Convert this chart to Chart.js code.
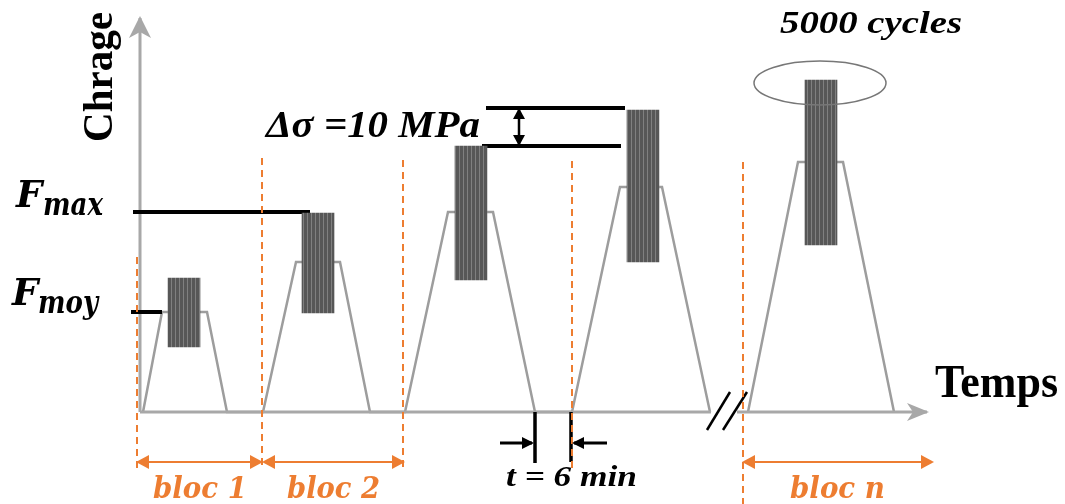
<!DOCTYPE html>
<html>
<head>
<meta charset="utf-8">
<script src="https://cdn.jsdelivr.net/npm/chart.js@4.4.1/dist/chart.umd.min.js"></script>
<style>
  html, body { margin: 0; padding: 0; background: #fff; }
  #wrap { width: 1065px; height: 504px; }
</style>
</head>
<body>
<div id="wrap"><canvas id="chart"></canvas></div>
<script>
// temps : 0 = axe vertical ; charge : 0 = axe horizontal
const profileT = [3, 22, 67, 87, 123, 156, 200, 230, 265, 308, 353, 395, 432, 480, 522, 570];
const profileF = [0, 100, 100, 0, 0, 150, 150, 0, 0, 200, 200, 0, 0, 225, 225, 0];
const blocNT = [608, 658, 703, 754];
const blocNF = [0, 250, 250, 0];

// paquets de cycles : centre, charge min, charge max
const cycT = [44, 178, 331, 503, 681];
const cycMin = [65, 99, 132, 150, 167];
const cycMax = [134, 199, 266, 302, 332];

// limites des blocs (pointillés orange)
const blocT = [-3, 122, 263, 432, 603];
const blocTop = [155, 254, 252, 251, 250];

const Fmax = 200, Fmoy = 100;
const dsHigh = 304, dsLow = 266;
const pauseT = [395, 431]; // t = 6 min

const GREY = '#9d9d9d', AXIS = '#a8a8a8', ORANGE = '#ED7D31';

const seg = (t0, f0, t1, f1) => [{ x: t0, y: f0 }, { x: t1, y: f1 }];
const line = (data, color, width, extra) => Object.assign({
  type: 'line', data, borderColor: color, borderWidth: width,
  pointRadius: 0, fill: false, tension: 0, order: 2
}, extra || {});

// motif strié des paquets de cycles
const pat = document.createElement('canvas');
pat.width = 4; pat.height = 2;
const pc = pat.getContext('2d');
pc.fillStyle = '#575757'; pc.fillRect(0, 0, 4, 2);
pc.fillStyle = '#808080'; pc.fillRect(3, 0, 1, 2);
const stripes = pc.createPattern(pat, 'repeat');

const datasets = [
  line(seg(0, 0, 0, 394), AXIS, 3, { arrow: 'end', head: [22, 11, 6], headColor: AXIS }),
  line(seg(0, 0, 571, 0), AXIS, 3),
  line(seg(597, 0, 787, 0), AXIS, 3, { arrow: 'end', head: [22, 9, 6], headColor: AXIS }),
  line(profileT.map((t, i) => ({ x: t, y: profileF[i] })), GREY, 2.5),
  line(blocNT.map((t, i) => ({ x: t, y: blocNF[i] })), GREY, 2.5),
  {
    type: 'bar', order: 0, grouped: false, barThickness: 32,
    backgroundColor: stripes, borderWidth: 0,
    data: cycT.map((t, i) => ({ x: t, y: [cycMin[i], cycMax[i]] }))
  },
  line(seg(-7, Fmax, 170, Fmax), '#000', 4, { order: 1 }),
  line(seg(-9, Fmoy, 22, Fmoy), '#000', 4, { order: 1 }),
  line(seg(346, dsHigh, 485, dsHigh), '#000', 4, { order: 1 }),
  line(seg(342, dsLow, 481, dsLow), '#000', 4, { order: 1 }),
  line(seg(379, dsLow + 2, 379, dsHigh - 2), '#000', 2.5, { order: 1, arrow: 'both', head: [11, 6, 0] }),
  line(seg(pauseT[0], 0, pauseT[0], -51), '#000', 3.5, { order: 1 }),
  line(seg(pauseT[1], 0, pauseT[1], -50), '#000', 3.5, { order: 1 }),
  line(seg(360, -31, pauseT[0] - 3, -31), '#000', 3, { order: 1, arrow: 'end', head: [12, 6, 0] }),
  line(seg(467, -31, pauseT[1] + 3, -31), '#000', 3, { order: 1, arrow: 'end', head: [12, 6, 0] }),
  line(seg(567, -18, 590, 20), '#000', 2.5, { order: 1 }),
  line(seg(583, -18, 607, 20), '#000', 2.5, { order: 1 }),
  ...blocT.map((t, i) => line(seg(t, blocTop[i], t, i === 4 ? -92 : -58), ORANGE, 2, { order: 0, borderDash: [7, 5] })),
  line(seg(blocT[0] + 1, -50, blocT[1] - 1, -50), ORANGE, 2, { order: 0, arrow: 'both', head: [13, 7, 0], headColor: ORANGE }),
  line(seg(blocT[1] + 2, -50, blocT[2], -50), ORANGE, 2, { order: 0, arrow: 'both', head: [13, 7, 0], headColor: ORANGE }),
  line(seg(blocT[4] + 1, -50, 792, -50), ORANGE, 2, { order: 0, arrow: 'both', head: [13, 7, 0], headColor: ORANGE })
];

const SERIF = '"Liberation Serif"', MATH = '"DejaVu Serif"';
const labels = [
  { text: 'Chrage', t: -28, f: 335, font: 'bold 42px ' + SERIF, w: 130, rot: -Math.PI / 2, align: 'center' },
  { text: 'F', t: -124, f: 205, font: 'bold italic 37px ' + MATH },
  { text: 'max', t: -97, f: 197, font: 'bold italic 31px ' + MATH, w: 60 },
  { text: 'F', t: -128, f: 107, font: 'bold italic 37px ' + MATH },
  { text: 'moy', t: -102, f: 99, font: 'bold italic 31px ' + MATH, w: 60 },
  { text: 'Δσ =10 MPa', t: 126, f: 275, font: 'bold italic 38px ' + SERIF, w: 214 },
  { text: '5000 cycles', t: 640, f: 379, font: 'bold italic 32px ' + SERIF, w: 182 },
  { text: 'Temps', t: 795, f: 15, font: 'bold 46px ' + SERIF, w: 123 },
  { text: 't = 6 min', t: 366, f: -74, font: 'bold italic 30px ' + SERIF, w: 131 },
  { text: 'bloc 1', t: 13, f: -86, font: 'bold italic 30px ' + MATH, w: 94, color: ORANGE },
  { text: 'bloc 2', t: 147, f: -86, font: 'bold italic 30px ' + MATH, w: 93, color: ORANGE },
  { text: 'bloc n', t: 650, f: -86, font: 'bold italic 30px ' + MATH, w: 95, color: ORANGE }
];
const ellipse = { t: 680, f: 329, rx: 66, ry: 22 };

const decor = {
  id: 'decor',
  afterDatasetsDraw(chart) {
    const ctx = chart.ctx, sx = chart.scales.x, sy = chart.scales.y;
    // têtes de flèches
    chart.data.datasets.forEach((ds, i) => {
      if (!ds.arrow) return;
      const pts = chart.getDatasetMeta(i).data;
      const ends = ds.arrow === 'both' ? [[pts[1], pts[0]], [pts[0], pts[1]]] : [[pts[0], pts[1]]];
      const [len, half, notch] = ds.head;
      ends.forEach(([a, b]) => {
        const ang = Math.atan2(b.y - a.y, b.x - a.x);
        ctx.save();
        ctx.translate(b.x, b.y);
        ctx.rotate(ang);
        ctx.beginPath();
        ctx.moveTo(2, 0);
        ctx.lineTo(2 - len, -half);
        ctx.lineTo(2 - len + notch, 0);
        ctx.lineTo(2 - len, half);
        ctx.closePath();
        ctx.fillStyle = ds.headColor || '#000';
        ctx.fill();
        ctx.restore();
      });
    });
    // ellipse autour du dernier paquet
    ctx.save();
    ctx.beginPath();
    ctx.ellipse(sx.getPixelForValue(ellipse.t), sy.getPixelForValue(ellipse.f), ellipse.rx, ellipse.ry, 0, 0, Math.PI * 2);
    ctx.strokeStyle = '#777';
    ctx.lineWidth = 1.5;
    ctx.stroke();
    ctx.restore();
    // textes
    labels.forEach(l => {
      ctx.save();
      ctx.font = l.font;
      ctx.fillStyle = l.color || '#000';
      ctx.textBaseline = 'alphabetic';
      ctx.textAlign = l.align || 'left';
      const k = l.w ? l.w / ctx.measureText(l.text).width : 1;
      ctx.translate(sx.getPixelForValue(l.t), sy.getPixelForValue(l.f));
      if (l.rot) ctx.rotate(l.rot);
      ctx.scale(k, 1);
      ctx.fillText(l.text, 0, 0);
      ctx.restore();
    });
  }
};

new Chart(document.getElementById('chart'), {
  type: 'scatter',
  data: { datasets },
  options: {
    responsive: true,
    maintainAspectRatio: false,
    animation: false,
    layout: { padding: 0 },
    plugins: { legend: { display: false }, tooltip: { enabled: false } },
    scales: {
      x: { type: 'linear', min: -140, max: 925, offset: false, display: false },
      y: { type: 'linear', min: -92, max: 412, display: false }
    }
  },
  plugins: [decor]
});
</script>
</body>
</html>
